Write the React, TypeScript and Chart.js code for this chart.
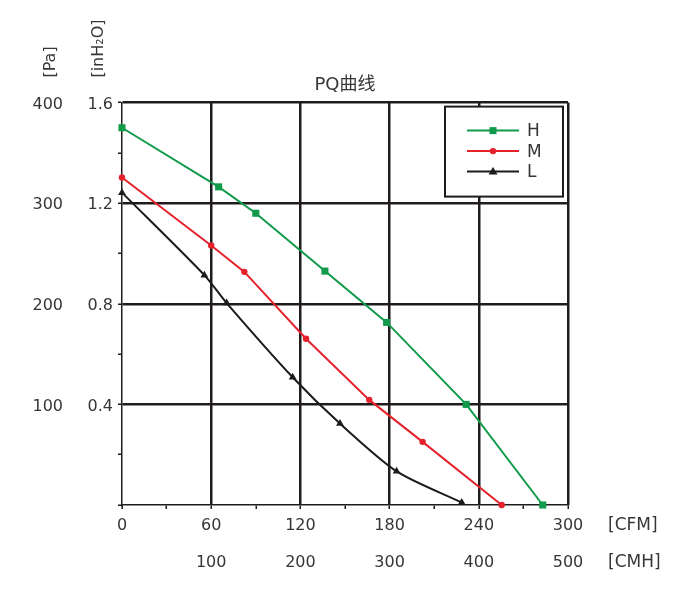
import { useEffect, useRef } from "react";
import { Chart, registerables } from "chart.js";

Chart.register(...registerables);

// airflow in CFM, static pressure in inH2O
const hFlow = [0, 65, 90, 136.5, 178, 231.5, 283];
const hPressure = [1.5, 1.265, 1.16, 0.93, 0.726, 0.4, 0];
const mFlow = [0, 60, 82.3, 123.8, 166.3, 202.2, 255.4];
const mPressure = [1.302, 1.032, 0.927, 0.661, 0.418, 0.251, 0];
const lFlow = [0, 55.4, 70.4, 114.8, 146.6, 184.7, 228.5];
const lPressure = [1.242, 0.914, 0.803, 0.508, 0.324, 0.134, 0.01];

const seriesNames = ["H", "M", "L"];
const seriesColors = ["#109a4a", "#e5222b", "#1b1b1b"];
const seriesMarkers = ["rect", "circle", "triangle"] as const;

const cfmTicks = [0, 60, 120, 180, 240, 300];
const cmhLabels = ["", "100", "200", "300", "400", "500"];

const FONT = "'DejaVu Sans', 'Noto Sans CJK SC', sans-serif";
const TEXT = "#363636";
const GRID = "#201c1c";

function drawMarker(
  ctx: CanvasRenderingContext2D,
  style: string,
  x: number,
  y: number,
  color: string
) {
  ctx.fillStyle = color;
  ctx.beginPath();
  if (style === "rect") {
    ctx.rect(x - 3.5, y - 3.5, 7, 7);
  } else if (style === "circle") {
    ctx.arc(x, y, 3.2, 0, Math.PI * 2);
  } else {
    ctx.moveTo(x, y - 4.5);
    ctx.lineTo(x + 4.5, y + 3);
    ctx.lineTo(x - 4.5, y + 3);
    ctx.closePath();
  }
  ctx.fill();
}

const extrasPlugin = {
  id: "pqExtras",
  afterDraw(chart: Chart) {
    const { ctx, chartArea: area, scales } = chart;
    ctx.save();
    ctx.font = `16px ${FONT}`;
    ctx.fillStyle = TEXT;

    // rotated unit labels above the y axes
    const rotated = (text: string, x: number, y: number) => {
      ctx.save();
      ctx.translate(x, y);
      ctx.rotate(-Math.PI / 2);
      ctx.textAlign = "left";
      ctx.textBaseline = "middle";
      ctx.fillText(text, 0, 0);
      ctx.restore();
    };
    rotated("[Pa]", scales.pa.right - 15, area.top - 25);
    rotated("[inH₂O]", scales.y.right - 23, area.top - 25);

    // unit labels after the x axes
    ctx.font = `17px ${FONT}`;
    ctx.textAlign = "left";
    ctx.textBaseline = "middle";
    ctx.fillText("[CFM]", area.right + 40, scales.x.top + 21);
    ctx.fillText("[CMH]", area.right + 40, scales.cmh.top + 22);

    // legend box
    const right = area.right - 5;
    const left = right - 118;
    const top = area.top + 4;
    ctx.fillStyle = "#ffffff";
    ctx.fillRect(left, top, 118, 90);
    ctx.strokeStyle = GRID;
    ctx.lineWidth = 2;
    ctx.strokeRect(left, top, 118, 90);
    seriesNames.forEach((name, i) => {
      const y = top + 24 + i * 20.5;
      ctx.strokeStyle = seriesColors[i];
      ctx.lineWidth = 2;
      ctx.beginPath();
      ctx.moveTo(left + 22, y);
      ctx.lineTo(left + 74, y);
      ctx.stroke();
      drawMarker(ctx, seriesMarkers[i], left + 48, y, seriesColors[i]);
      ctx.fillStyle = TEXT;
      ctx.font = `17px ${FONT}`;
      ctx.fillText(name, left + 82, y + 1);
    });
    ctx.restore();
  }
};

function toPoints(xs: number[], ys: number[]) {
  return xs.map((x, i) => ({ x, y: ys[i] }));
}

export default function App() {
  const canvasRef = useRef<HTMLCanvasElement | null>(null);

  useEffect(() => {
    if (!canvasRef.current) return;

    const pointSets = [
      toPoints(hFlow, hPressure),
      toPoints(mFlow, mPressure),
      toPoints(lFlow, lPressure)
    ];

    const tickFont = { family: FONT, size: 16 };

    const chart = new Chart(canvasRef.current, {
      type: "line",
      data: {
        datasets: pointSets.map((data, i) => ({
          label: seriesNames[i],
          data,
          borderColor: seriesColors[i],
          backgroundColor: seriesColors[i],
          borderWidth: 2,
          pointStyle: seriesMarkers[i],
          pointRadius: i === 0 ? 5 : i === 1 ? 3.2 : 4.5,
          pointBorderWidth: 0,
          tension: i === 2 ? 0.25 : 0,
          clip: false
        }))
      },
      options: {
        animation: false,
        responsive: true,
        maintainAspectRatio: false,
        layout: { padding: { left: 0, right: 124, top: 0, bottom: 20 } },
        font: tickFont,
        plugins: {
          legend: { display: false },
          tooltip: { enabled: false },
          title: {
            display: true,
            text: "PQ曲线",
            fullSize: false,
            color: TEXT,
            font: { family: FONT, size: 18, weight: "normal" },
            padding: { top: 67, bottom: 6 }
          }
        },
        scales: {
          x: {
            type: "linear",
            position: "bottom",
            weight: 1,
            min: 0,
            max: 300,
            afterFit: (s) => {
              s.height = 36;
            },
            ticks: {
              stepSize: 30,
              autoSkip: false,
              maxRotation: 0,
              padding: 7,
              color: TEXT,
              font: tickFont,
              callback: (v) => (Number(v) % 60 === 0 ? String(v) : "")
            },
            grid: {
              color: (c) =>
                c.tick && c.tick.value % 60 === 0 && c.tick.value !== 0
                  ? GRID
                  : "transparent",
              lineWidth: 2.5,
              tickColor: GRID,
              tickLength: 4,
              tickWidth: 1.5
            },
            border: { color: GRID, width: 1.5 }
          },
          cmh: {
            type: "linear",
            position: "bottom",
            weight: 2,
            min: 0,
            max: 300,
            afterFit: (s) => {
              s.height = 36;
            },
            ticks: {
              stepSize: 60,
              autoSkip: false,
              maxRotation: 0,
              padding: 12,
              color: TEXT,
              font: tickFont,
              callback: (v) => cmhLabels[cfmTicks.indexOf(Number(v))] ?? ""
            },
            grid: { display: false, drawTicks: false },
            border: { display: false }
          },
          y: {
            type: "linear",
            position: "left",
            weight: 1,
            min: 0,
            max: 1.6,
            afterFit: (s) => {
              s.width = 56;
            },
            ticks: {
              stepSize: 0.2,
              autoSkip: false,
              padding: 5,
              labelOffset: 2,
              color: TEXT,
              font: tickFont,
              callback: (v) => {
                const k = Math.round(Number(v) * 10);
                return k > 0 && k % 4 === 0 ? (k / 10).toFixed(1) : "";
              }
            },
            grid: {
              color: (c) => {
                if (!c.tick) return "transparent";
                const k = Math.round(c.tick.value * 10);
                return k > 0 && k % 4 === 0 ? GRID : "transparent";
              },
              lineWidth: 2.5,
              tickColor: GRID,
              tickLength: 4,
              tickWidth: 1.5
            },
            border: { color: GRID, width: 1.5 }
          },
          pa: {
            type: "linear",
            position: "left",
            weight: 2,
            min: 0,
            max: 400,
            afterFit: (s) => {
              s.width = 58;
            },
            ticks: {
              stepSize: 100,
              padding: 3,
              labelOffset: 2,
              color: TEXT,
              font: tickFont,
              callback: (v) => (Number(v) === 0 ? "" : String(v))
            },
            grid: { display: false, drawTicks: false },
            border: { display: false }
          }
        }
      },
      plugins: [extrasPlugin]
    });

    return () => chart.destroy();
  }, []);

  return (
    <div style={{ position: "relative", width: 684, height: 589 }}>
      <canvas ref={canvasRef} />
    </div>
  );
}
